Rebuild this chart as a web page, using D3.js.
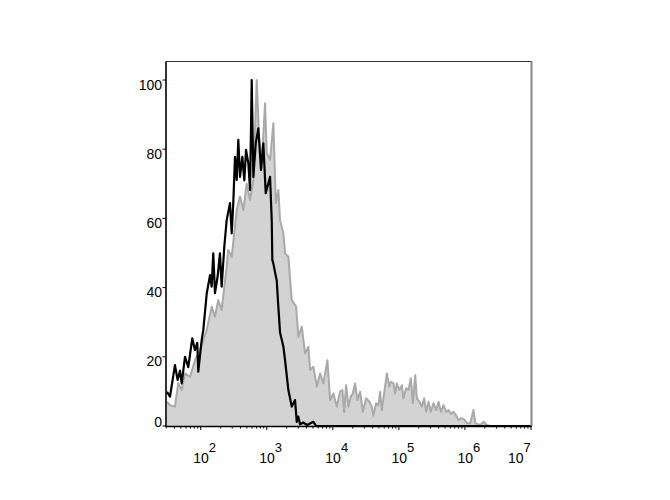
<!DOCTYPE html>
<html><head><meta charset="utf-8">
<script src="https://cdn.jsdelivr.net/npm/d3@7"></script>
<style>body{margin:0;background:#fff}svg{display:block}text{font-family:Arial,"Liberation Sans",sans-serif;fill:#000}</style>
</head><body>
<script>
// log10 channel positions and % of max for the filled (gray) histogram
const grayLog = [1.489,1.535,1.610,1.660,1.712,1.762,1.838,1.913,1.989,2.039,2.091,2.166,2.216,2.266,2.317,2.357,2.393,2.417,2.469,2.545,2.595,2.645,2.696,2.747,2.797,2.848,2.883,2.924,2.974,3.000,3.050,3.100,3.137,3.176,3.201,3.251,3.277,3.327,3.378,3.444,3.479,3.530,3.580,3.630,3.656,3.706,3.757,3.807,3.857,3.918,3.959,4.009,4.060,4.110,4.145,4.171,4.201,4.236,4.272,4.302,4.337,4.372,4.413,4.454,4.504,4.554,4.590,4.614,4.655,4.690,4.716,4.742,4.777,4.818,4.853,4.878,4.918,4.943,4.969,5.008,5.045,5.069,5.110,5.145,5.181,5.212,5.247,5.272,5.312,5.348,5.383,5.413,5.448,5.484,5.524,5.565,5.600,5.636,5.676,5.717,5.752,5.788,5.827,5.868,5.903,5.944,5.989,6.030,6.080,6.130,6.156,6.232,6.282,6.333,6.383,7.0];
const grayVal = [7,6,5.6,12.4,10.4,15.2,14.2,19,22,24.9,27.7,34.5,31.6,36.4,33.5,40.3,46,50.9,48.9,62.4,66.3,62.4,70.1,65.3,71.1,100,83.6,75.9,93.3,78.8,76.9,87.5,64.4,68.2,59.5,55.7,49.9,48.9,36.4,34.5,25.8,28.7,21,22.9,16.2,17.1,11.4,15.2,12.3,19,7.5,9.4,5.6,10,10.4,4.1,11.8,5.6,8.5,9.4,12.3,7.5,9.9,4.1,8,7,5.6,3,6.6,6,9.9,4.6,9.4,15.2,11.4,12.8,12.3,9.4,12.3,10.4,11.8,8,10.9,10.4,13.8,6.6,14.7,8,7,5.6,8,4.1,7,4.1,6.6,4.6,7,4.1,6,4.1,4.6,3.5,4.1,3.0,1.7,2.3,1.9,0.8,0.8,4.6,0.8,0.3,1.2,0.3,0,0];
// log10 channel positions and % of max for the outlined (black) histogram
const blackLog = [1.489,1.535,1.610,1.651,1.686,1.712,1.762,1.812,1.872,1.913,1.948,1.963,2.015,2.039,2.091,2.141,2.166,2.190,2.216,2.256,2.291,2.317,2.357,2.393,2.443,2.469,2.493,2.519,2.545,2.569,2.595,2.630,2.660,2.686,2.721,2.747,2.772,2.797,2.833,2.872,2.913,2.948,2.984,3.050,3.075,3.084,3.099,3.151,3.175,3.201,3.251,3.277,3.327,3.378,3.428,3.454,3.478,3.504,3.554,3.610,3.706,3.747,7.0];
const blackVal = [9.9,8.5,17.6,13.3,16,12.3,20,17,25.3,22,24,15.7,24.9,27.7,38.3,43.6,40.3,49.9,38.4,43.2,49.9,40.3,51.8,59.5,64.4,55.7,64.4,77.8,71.1,82.7,72,77.8,71,79.8,75.9,68.2,100,72,81.7,86,74,81.7,67.3,72,59.5,48,47,42,34.5,27,23,19,10.4,5.6,7.5,1.2,2.7,0.5,1,0.3,1.2,0,0];
const yTicks = [0,20,40,60,80,100];
const xDecades = [2,3,4,5,6,7];

const W=670,H=500, L=166, R=531, T=61.5, B=426;
const svg=d3.select("body").append("svg").attr("width",W).attr("height",H);
const x=d3.scaleLog().domain([Math.pow(10,1.4745),1e7]).range([L,R]);
const y=d3.scaleLinear().domain([0,100]).range([B,80]);

svg.append("clipPath").attr("id","c").append("rect").attr("x",L).attr("y",T).attr("width",R-L).attr("height",B-T+1);
const g=svg.append("g").attr("clip-path","url(#c)");

const gray=grayLog.map((d,i)=>[Math.pow(10,d),grayVal[i]]);
const black=blackLog.map((d,i)=>[Math.pow(10,d),blackVal[i]]);
g.append("path").datum(gray)
 .attr("d",d3.area().x(d=>x(d[0])).y0(y(0)).y1(d=>y(d[1])))
 .attr("fill","#d3d3d3");
g.append("path").datum(gray)
 .attr("d",d3.line().x(d=>x(d[0])).y(d=>y(d[1])))
 .attr("fill","none").attr("stroke","#a9a9a9").attr("stroke-width",2).attr("stroke-linejoin","round");
g.append("path").datum(black)
 .attr("d",d3.line().x(d=>x(d[0])).y(d=>y(d[1])))
 .attr("fill","none").attr("stroke","#000").attr("stroke-width",2.2).attr("stroke-linejoin","round");

// frame
svg.append("line").attr("x1",L).attr("x2",R+1).attr("y1",T).attr("y2",T).attr("stroke","#333").attr("stroke-width",1);
svg.append("line").attr("x1",R+0.5).attr("x2",R+0.5).attr("y1",T).attr("y2",B).attr("stroke","#888").attr("stroke-width",2);
svg.append("line").attr("x1",L).attr("x2",L).attr("y1",T).attr("y2",B+1).attr("stroke","#000").attr("stroke-width",1.6);
svg.append("line").attr("x1",L).attr("x2",R+1).attr("y1",B+0.5).attr("y2",B+0.5).attr("stroke","#000").attr("stroke-width",1.6);

// y axis ticks + labels
const yg=svg.append("g");
yTicks.forEach(t=>{
  yg.append("line").attr("x1",L-3.5).attr("x2",L).attr("y1",y(t)).attr("y2",y(t)).attr("stroke","#000").attr("stroke-width",1);
  yg.append("text").attr("x",L-4).attr("y",y(t)+(t===0?1:9.5)).attr("text-anchor","end").attr("font-size",14).text(t);
});

// x axis ticks
const xg=svg.append("g");
const minor=x.ticks();
minor.forEach(v=>{
  const lg=Math.log10(v), major=Math.abs(lg-Math.round(lg))<1e-9;
  xg.append("line").attr("x1",x(v)).attr("x2",x(v)).attr("y1",B).attr("y2",B+(major?4:2.5)).attr("stroke","#000").attr("stroke-width",1);
});
xDecades.forEach(d=>{
  const px=x(Math.pow(10,d));
  const t=xg.append("text").attr("x",px-(d===7?23:7.5)).attr("y",462.5).attr("font-size",14);
  t.append("tspan").text("10");
  t.append("tspan").attr("font-size",13).attr("dy",-10.5).text(d);
});
</script>
</body></html>
